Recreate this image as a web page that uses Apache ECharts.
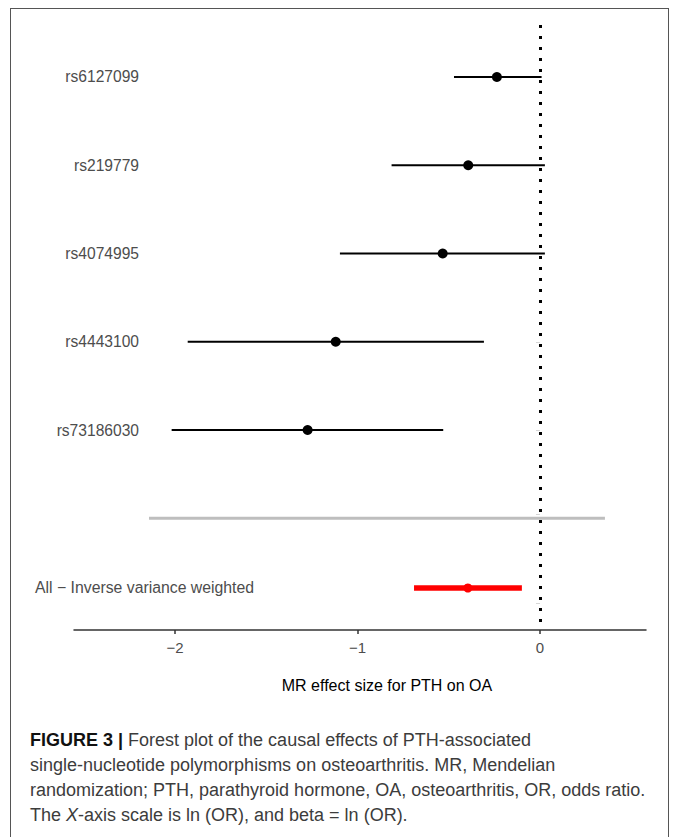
<!DOCTYPE html>
<html>
<head>
<meta charset="utf-8">
<script src="https://cdn.jsdelivr.net/npm/echarts@6/dist/echarts.min.js"></script>
<style>
  html, body { margin: 0; padding: 0; background: #fff; }
  #chart { position: absolute; left: 0; top: 0; width: 675px; height: 837px; }
  #frame { position: absolute; left: 10px; top: 8px; width: 657px; height: 840px;
           border: 1.5px solid #555; pointer-events: none; }
</style>
</head>
<body>
<div id="chart"></div>
<div id="frame"></div>
<script>
// ---- data ----
const snps = ['rs6127099', 'rs219779', 'rs4074995', 'rs4443100', 'rs73186030'];
const snpRows = [1, 2, 3, 4, 5];
const snpBeta = [-0.236, -0.393, -0.533, -1.119, -1.273];
const snpLow  = [-0.471, -0.813, -1.096, -1.930, -2.018];
const snpHigh = [0.009, 0.027, 0.027, -0.307, -0.530];

const sepRow = 6;
const sepRange = [-2.142, 0.356];

const ivwLabel = 'All \u2212 Inverse variance weighted';
const ivwRow = 6.79;
const ivwBeta = -0.395;
const ivwLow = -0.690;
const ivwHigh = -0.099;

const xTicks = [-2, -1, 0];
const xName = 'MR effect size for PTH on OA';

const FONT = '"Liberation Sans", Arial, sans-serif';

const chart = echarts.init(document.getElementById('chart'), null, { renderer: 'svg' });

function segRender(color, width) {
  return function (params, api) {
    const a = api.coord([api.value(0), api.value(2)]);
    const b = api.coord([api.value(1), api.value(2)]);
    return {
      type: 'line',
      shape: { x1: a[0], y1: a[1], x2: b[0], y2: b[1] },
      style: { stroke: color, lineWidth: width }
    };
  };
}

const ciData = snps.map((s, i) => [snpLow[i], snpHigh[i], snpRows[i]]);
const ptData = snps.map((s, i) => [snpBeta[i], snpRows[i]]);

const option = {
  animation: false,
  backgroundColor: '#fff',
  grid: { left: 74, right: 29, top: 25, bottom: 207, containLabel: false },
  xAxis: {
    type: 'value',
    min: -2.553,
    max: 0.581,
    splitLine: { show: false },
    axisLine: { show: true, lineStyle: { color: '#333', width: 1.5 } },
    axisTick: { show: true, customValues: xTicks, length: 4, lineStyle: { color: '#333', width: 1.5 } },
    axisLabel: {
      customValues: xTicks, margin: 10, color: '#4d4d4d', fontSize: 15, fontFamily: FONT,
      formatter: v => String(v).replace('-', '\u2212')
    },
    name: xName,
    nameLocation: 'middle',
    nameGap: 47,
    nameTextStyle: { color: '#000', fontSize: 16, fontFamily: FONT, padding: [0, 0, 0, 54] }
  },
  yAxis: [
    {
      type: 'value',
      inverse: true,
      min: 0.411,
      max: 7.266,
      offset: -73,
      splitLine: { show: false },
      axisLine: { show: false },
      axisTick: { show: true, customValues: [1, 2, 3, 4, 5, 5.96, 6.96], length: 4, lineStyle: { color: '#d6d6d6', width: 1 } },
      axisLabel: {
        customValues: snpRows, margin: 8, color: '#4d4d4d', fontSize: 15.6, fontFamily: FONT,
        formatter: v => snps[snpRows.indexOf(v)] || ''
      }
    },
    {
      type: 'value',
      inverse: true,
      min: 0.411,
      max: 7.266,
      position: 'left',
      offset: -73,
      splitLine: { show: false },
      axisLine: { show: false },
      axisTick: { show: false },
      axisLabel: {
        customValues: [ivwRow], margin: 112, align: 'left', color: '#4d4d4d', fontSize: 15.8, fontFamily: FONT,
        formatter: () => ivwLabel
      }
    }
  ],
  series: [
    {
      type: 'custom',
      name: 'separator',
      renderItem: segRender('#bebebe', 3),
      data: [[sepRange[0], sepRange[1], sepRow]],
      encode: { x: [0, 1], y: 2 },
      z: 1,
      markLine: {
        silent: true,
        symbol: 'none',
        label: { show: false },
        lineStyle: { color: '#000', width: 3, type: [3, 8] },
        data: [{ xAxis: 0 }]
      }
    },
    {
      type: 'custom',
      name: 'ci',
      renderItem: segRender('#000', 2.2),
      data: ciData,
      encode: { x: [0, 1], y: 2 },
      z: 3
    },
    {
      type: 'scatter',
      name: 'beta',
      data: ptData,
      symbol: 'circle',
      symbolSize: 10,
      itemStyle: { color: '#000', opacity: 1 },
      z: 4
    },
    {
      type: 'custom',
      name: 'ivwci',
      renderItem: segRender('#ff0000', 5.5),
      data: [[ivwLow, ivwHigh, ivwRow]],
      encode: { x: [0, 1], y: 2 },
      z: 3
    },
    {
      type: 'scatter',
      name: 'ivw',
      data: [[ivwBeta, ivwRow]],
      symbol: 'circle',
      symbolSize: 9,
      itemStyle: { color: '#ff0000', opacity: 1 },
      z: 4
    }
  ],
  graphic: [
    {
      type: 'text',
      left: 30,
      top: 727,
      style: {
        text: '{b|FIGURE 3 |} Forest plot of the causal effects of PTH-associated\n' +
              'single-nucleotide polymorphisms on osteoarthritis. MR, Mendelian\n' +
              'randomization; PTH, parathyroid hormone, OA, osteoarthritis, OR, odds ratio.\n' +
              'The {i|X}-axis scale is ln (OR), and beta = ln (OR).',
        fill: '#3c3c3c',
        fontSize: 18,
        fontFamily: FONT,
        lineHeight: 25,
        rich: {
          b: { fontWeight: 'bold', fill: '#111', fontSize: 18, fontFamily: FONT, lineHeight: 25 },
          i: { fontStyle: 'italic', fill: '#3c3c3c', fontSize: 18, fontFamily: FONT, lineHeight: 25 }
        }
      }
    }
  ]
};

chart.setOption(option);
</script>
</body>
</html>
